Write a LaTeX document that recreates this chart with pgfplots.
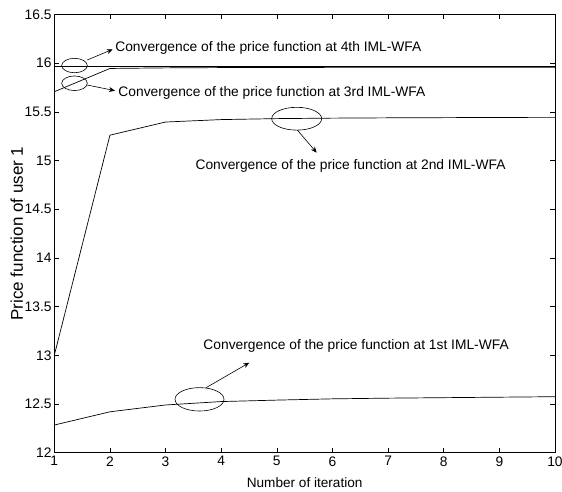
\documentclass[border=0pt]{standalone}
\usepackage{fontspec}
\setmainfont{Liberation Sans}
\usepackage{pgfplots}
\pgfplotsset{compat=1.18}
\usetikzlibrary{arrows.meta}
\begin{document}
\begin{tikzpicture}[x=1pt,y=1pt]
\useasboundingbox (-54.3,-38.3) rectangle (507.7,452.7);
\begin{axis}[
  at={(0,0)}, anchor=south west,
  scale only axis, width=500.7pt, height=438.3pt,
  xmin=1, xmax=10, ymin=12, ymax=16.5,
  xtick={1,2,...,10}, ytick={12,12.5,13,13.5,14,14.5,15,15.5,16,16.5},
  yticklabels={12,12.5,13,13.5,14,14.5,15,15.5,16,16.5},
  tick align=inside, major tick length=5pt,
  axis line style={line width=0.9pt},
  tick style={black, line width=0.6pt},
  /pgf/number format/assume math mode=true,
  ticklabel style={font=\fontsize{13.8}{15}\selectfont},
  yticklabel style={inner xsep=2.5pt},
  xticklabel style={inner ysep=3.5pt},
  xlabel={Number of iteration},
  ylabel={Price function of user 1},
  xlabel style={font=\fontsize{13.6}{15}\selectfont, at={(axis description cs:0.5,0)}, anchor=center, yshift=-30.3pt},
  ylabel style={font=\fontsize{17}{19}\selectfont, at={(axis description cs:0,0.5)}, anchor=center, rotate=0, yshift=37.6pt},
]
% 1st IML-WFA
\addplot[black, no markers, line width=0.7pt] coordinates {
 (1,12.284) (2,12.42) (3,12.49) (4,12.525) (5,12.54) (6,12.553) (7,12.56) (8,12.565) (9,12.57) (10,12.575)};
% 2nd IML-WFA
\addplot[black, no markers, line width=0.7pt] coordinates {
 (1,13.0) (2,15.26) (3,15.395) (4,15.42) (5,15.43) (6,15.435) (7,15.438) (8,15.44) (9,15.442) (10,15.443)};
% 3rd IML-WFA
\addplot[black, no markers, line width=0.7pt] coordinates {
 (1,15.706) (2,15.945) (3,15.951) (4,15.954) (5,15.955) (6,15.956) (7,15.956) (8,15.957) (9,15.957) (10,15.957)};
% 4th IML-WFA
\addplot[black, no markers, line width=0.7pt] coordinates {
 (1,15.965) (2,15.965) (3,15.965) (4,15.965) (5,15.965) (6,15.965) (7,15.965) (8,15.965) (9,15.965) (10,15.965)};

\tikzset{ann/.style={font=\fontsize{13.8}{15}\selectfont, inner sep=0pt},
         arr/.style={-{Stealth[length=6pt,width=5pt]}, line width=0.6pt}}
% 4th
\draw[line width=0.6pt] (axis cs:1.363,15.975) ellipse [x radius=12.8pt, y radius=7.2pt];
\draw[arr] (axis cs:1.593,16.032) -- (axis cs:2.05,16.142);
\node[ann, anchor=west] at (axis cs:2.093,16.152) {Convergence of the price function at 4th IML-WFA};
% 3rd
\draw[line width=0.6pt] (axis cs:1.363,15.793) ellipse [x radius=12.8pt, y radius=7.3pt];
\draw[arr] (axis cs:1.593,15.775) -- (axis cs:2.091,15.717);
\node[ann, anchor=west] at (axis cs:2.15,15.69) {Convergence of the price function at 3rd IML-WFA};
% 2nd
\draw[line width=0.6pt] (axis cs:5.357,15.429) ellipse [x radius=25pt, y radius=11.4pt];
\draw[arr] (axis cs:5.368,15.313) -- (axis cs:5.717,15.08);
\node[ann, anchor=center] at (axis cs:6.325,14.944) {Convergence of the price function at 2nd IML-WFA};
% 1st
\draw[line width=0.6pt] (axis cs:3.61,12.548) ellipse [x radius=24.5pt, y radius=11.7pt];
\draw[arr] (axis cs:3.727,12.667) -- (axis cs:4.505,12.924);
\node[ann, anchor=west] at (axis cs:3.678,13.095) {Convergence of the price function at 1st IML-WFA};
\end{axis}
\end{tikzpicture}
\end{document}
